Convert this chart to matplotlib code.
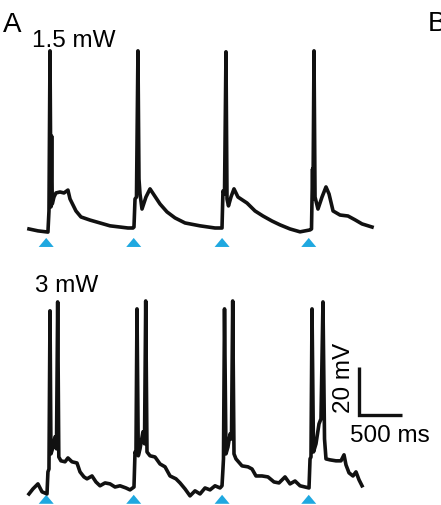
import numpy as np
import matplotlib
matplotlib.use('Agg')
import matplotlib.pyplot as plt

plt.rcParams['font.family'] = ['Liberation Sans', 'DejaVu Sans']

# light pulse onsets (ms), same for both intensities
stimTimes = [200, 1215, 2240, 3245]

# 1.5 mW trace: time (ms), membrane potential (mV)
t15 = [0, 104, 220, 232, 244, 255, 263, 270, 290, 313, 360, 406, 452, 476, 545, 603,
       708, 824, 940, 1056, 1148, 1206,
       1218, 1230, 1247, 1264, 1276, 1288, 1311, 1357, 1404, 1450, 1520, 1601, 1694,
       1810, 1984, 2158, 2239,
       2250, 2268, 2285, 2297, 2314, 2343, 2378, 2424, 2529, 2622, 2714, 2819, 2912,
       3028, 3144, 3260,
       3277, 3283, 3289, 3294, 3306, 3318, 3352, 3399, 3445, 3480, 3527, 3608, 3700,
       3782, 3863, 3979]
v15 = [-65, -65.8, -66.3, -57.5, 9.2, -55.8, -26.3, -54.6, -51.7, -50, -49.6, -50, -48.8,
       -52.5, -57.5, -60, -61.3, -62.5, -63.7, -64.2, -64.6, -64.6,
       -64.2, -52.5, -51.7, 9.2, -44.2, -50.4, -56.7, -51.7, -48.3, -50.8, -54.6, -57.9,
       -60.4, -62.5, -63.7, -64.6, -64.6,
       -49.2, -50.4, 8.8, -52.5, -55.4, -51.7, -48.3, -51.7, -54.2, -57.5, -59.6, -61.7,
       -63.3, -65, -66.2, -65.4,
       -65, -52.5, -40, -52.5, 9.2, -51.7, -56.7, -51.7, -47.5, -50.4, -57.5, -59.2,
       -59.6, -61.2, -62.9, -64.2]

# 3 mW trace
t3 = [0, 46, 104, 151, 209, 220, 232, 244, 255, 273, 302, 319, 333, 346, 371, 418, 452,
      499, 557, 592, 638, 673, 731, 777, 824, 882, 940, 998, 1056, 1125, 1172, 1218,
      1230, 1241, 1253, 1268, 1288, 1322, 1340, 1354, 1369, 1404, 1462, 1520, 1578,
      1636, 1705, 1752, 1810, 1868, 1926, 1984, 2042, 2100, 2158, 2216, 2239,
      2250, 2256, 2268, 2285, 2308, 2332, 2349, 2363, 2378, 2401, 2471, 2540, 2587,
      2633, 2703, 2772, 2842, 2900, 2970, 3028, 3086, 3144, 3202, 3248,
      3260, 3271, 3283, 3300, 3329, 3364, 3387, 3410, 3428, 3445, 3492, 3561, 3619,
      3654, 3677, 3712, 3758, 3793, 3828, 3863]
v3 = [-67.1, -65, -62.9, -66.2, -67.1, -57.9, -56.7, 9.2, -50.4, -48.3, -43.3, -48.3,
      12.9, -51.7, -53.3, -53.7, -52.1, -53.7, -54.2, -57.9, -60, -60.8, -59.6, -62.1,
      -63.7, -62.5, -62.9, -64.2, -63.7, -64.6, -65.4, -64.2,
      -49.6, -50.4, 10, -51.2, -48.3, -41.2, -46.2, 13.3, -49.6, -51.2, -51.7, -54.6,
      -55.8, -59.6, -60.8, -62.5, -65, -67.9, -65.8, -67.1, -64.6, -65.4, -63.7, -64.6,
      -63.7,
      -56.7, -52.5, 10, -50.4, -47.5, -42.1, -44.2, 13.3, -50.4, -52.5, -55.4, -55.8,
      -56.7, -59.6, -59.6, -60, -62.1, -62.5, -60, -62.9, -61.7, -63.7, -64.2, -64.6,
      -52.5, -51.7, 10, -49.6, -46.2, -37.9, -35.8, 12.9, -44.2, -52.5, -52.9, -53.3,
      -53.3, -50.8, -55, -58.3, -59.6, -57.9, -61.2, -63.7]

offset3 = -108.3      # vertical shift of the 3 mW trace
stimColor = '#1fa8e0'

fig = plt.figure(figsize=(4.41, 5.06), dpi=100)
ax = fig.add_axes([0, 0, 1, 1])
ax.set_xlim(-336, 4779)
ax.set_ylim(-180, 30.8)
ax.axis('off')

ax.plot(t15, v15, color='#111111', lw=2.6)
ax.plot(t3, np.array(v3) + offset3, color='#111111', lw=2.6)

# blue triangles marking light pulses
halfW, triH = 87, 3.75
for base in [-72.5, -71.2 + offset3]:
    for s in stimTimes:
        ax.fill([s - halfW, s + halfW, s], [base, base, base + triH],
                color=stimColor, lw=0)

# scale bar: 20 mV, 500 ms
barX, barY = 3828, -142.5
ax.plot([barX, barX, barX + 500], [barY + 20, barY, barY], color='#111111',
        lw=2.4, solid_joinstyle='miter', solid_capstyle='butt')

fs = 17.5
fig.text(3 / 441, 1 - 32 / 506, 'A', fontsize=20, va='baseline', ha='left')
fig.text(428 / 441, 1 - 31 / 506, 'B', fontsize=20, va='baseline', ha='left')
fig.text(32 / 441, 1 - 47 / 506, '1.5 mW', fontsize=fs, va='baseline', ha='left')
fig.text(35 / 441, 1 - 292 / 506, '3 mW', fontsize=fs, va='baseline', ha='left')
fig.text(350 / 441, 1 - 442 / 506, '500 ms', fontsize=fs, va='baseline', ha='left')
fig.text(344 / 441, 1 - 378 / 506, '20 mV', fontsize=fs, rotation=90,
         va='center', ha='center')

fig.savefig('out.png', dpi=100)
